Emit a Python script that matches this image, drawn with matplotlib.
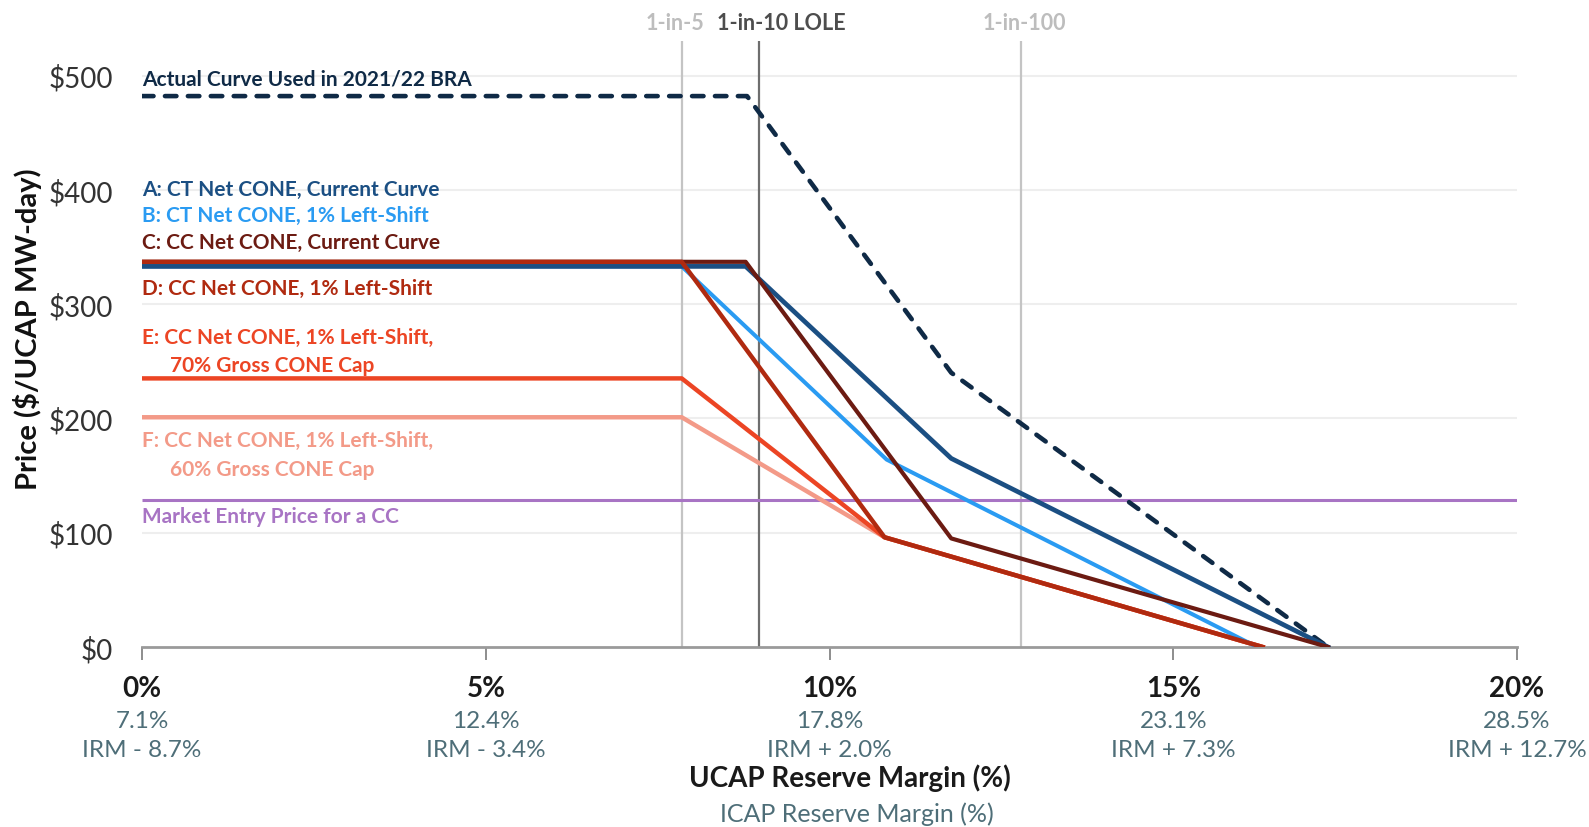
import matplotlib
matplotlib.use("Agg")
import matplotlib.pyplot as plt
import matplotlib.transforms as mtransforms

plt.rcParams['font.family'] = ['Lato', 'DejaVu Sans']

# ---- data ----
x_actual = [0, 8.8, 11.77, 17.25]
y_actual = [482, 482, 240, 0]
x_A = [0, 8.78, 11.77, 17.25]
y_A = [333, 333, 165, 0]
x_B = [0, 7.85, 10.83, 16.22]
y_B = [333, 333, 164, 0]
x_C = [0, 8.78, 11.77, 17.25]
y_C = [337, 337, 95, 0]
x_D = [0, 7.85, 10.8, 16.3]
y_D = [337, 337, 96, 0]
x_E = [0, 7.85, 10.8, 16.3]
y_E = [235, 235, 96, 0]
x_F = [0, 7.85, 10.8, 16.3]
y_F = [201, 201, 96, 0]
entry_price = 129

lole_x = [7.85, 8.97, 12.78]
lole_labels = ["1-in-5", "1-in-10 LOLE", "1-in-100"]

xticks = [0, 5, 10, 15, 20]
xtick_labels = ["0%", "5%", "10%", "15%", "20%"]
icap_labels = ["7.1%", "12.4%", "17.8%", "23.1%", "28.5%"]
irm_labels = ["IRM - 8.7%", "IRM - 3.4%", "IRM + 2.0%", "IRM + 7.3%", "IRM + 12.7%"]
yticks = [0, 100, 200, 300, 400, 500]
ytick_labels = ["$0", "$100", "$200", "$300", "$400", "$500"]

# ---- colours ----
c_actual = "#0f2a46"
c_A = "#1b4f83"
c_B = "#2a9bf2"
c_C = "#6c1b12"
c_D = "#b02a10"
c_E = "#ec4524"
c_F = "#f39a88"
c_entry = "#a874c4"

fig = plt.figure(figsize=(15.89, 8.28), dpi=100)
ax = fig.add_axes([0.0894, 0.2174, 0.8653, 0.7316])
ax.set_xlim(0, 20)
ax.set_ylim(0, 530)

for y in [100, 200, 300, 400, 500]:
    ax.axhline(y, color="#eeeeee", lw=1.5, zorder=0)

ax.axvline(lole_x[0], color="#c4c4c4", lw=1.6, zorder=1)
ax.axvline(lole_x[1], color="#6e6e6e", lw=1.6, zorder=1)
ax.axvline(lole_x[2], color="#c4c4c4", lw=1.6, zorder=1)

ax.plot([0, 20], [entry_price, entry_price], color=c_entry, lw=2.2, zorder=2, solid_capstyle='butt')
ax.plot(x_F, y_F, color=c_F, lw=3.2, zorder=3)
ax.plot(x_E, y_E, color=c_E, lw=3.2, zorder=4)
ax.plot(x_actual, y_actual, color=c_actual, lw=3.3, ls=(0, (2.5, 2.5)),
        dash_capstyle='round', zorder=5)
ax.plot(x_B, y_B, color=c_B, lw=2.9, zorder=6)
ax.plot(x_A, y_A, color=c_A, lw=3.4, zorder=7)
ax.plot(x_C, y_C, color=c_C, lw=3.0, zorder=8)
ax.plot(x_D, y_D, color=c_D, lw=3.2, zorder=9)

# labels for series
fs = 15
ax.text(0, 497, "Actual Curve Used in 2021/22 BRA", color=c_actual, fontsize=fs, fontweight='bold', va='center', ha='left')
ax.text(0, 401, "A: CT Net CONE, Current Curve", color=c_A, fontsize=fs, fontweight='bold', va='center', ha='left')
ax.text(0, 378, "B: CT Net CONE, 1% Left-Shift", color=c_B, fontsize=fs, fontweight='bold', va='center', ha='left')
ax.text(0, 354, "C: CC Net CONE, Current Curve", color=c_C, fontsize=fs, fontweight='bold', va='center', ha='left')
ax.text(0, 314, "D: CC Net CONE, 1% Left-Shift", color=c_D, fontsize=fs, fontweight='bold', va='center', ha='left')
ax.text(0, 271, "E: CC Net CONE, 1% Left-Shift,", color=c_E, fontsize=fs, fontweight='bold', va='center', ha='left')
ax.text(0.4, 247, "70% Gross CONE Cap", color=c_E, fontsize=fs, fontweight='bold', va='center', ha='left')
ax.text(0, 181, "F: CC Net CONE, 1% Left-Shift,", color=c_F, fontsize=fs, fontweight='bold', va='center', ha='left')
ax.text(0.4, 156, "60% Gross CONE Cap", color=c_F, fontsize=fs, fontweight='bold', va='center', ha='left')
ax.text(0, 115, "Market Entry Price for a CC", color=c_entry, fontsize=fs, fontweight='bold', va='center', ha='left')

# LOLE labels on top
trans_top = mtransforms.blended_transform_factory(ax.transData, fig.transFigure)
ax.text(7.75, 1 - 23 / 828, lole_labels[0], transform=trans_top, color="#bdbdbd", fontsize=15.5, fontweight='bold', ha='center', va='center')
ax.text(8.36, 1 - 23 / 828, lole_labels[1], transform=trans_top, color="#4d4d4d", fontsize=15.5, fontweight='bold', ha='left', va='center')
ax.text(12.83, 1 - 23 / 828, lole_labels[2], transform=trans_top, color="#bdbdbd", fontsize=15.5, fontweight='bold', ha='center', va='center')

# axes styling
for s in ['top', 'right', 'left']:
    ax.spines[s].set_visible(False)
ax.spines['bottom'].set_color("#9a9a9a")
ax.spines['bottom'].set_linewidth(2.0)
ax.set_yticks(yticks)
ax.set_yticklabels(ytick_labels, fontsize=20, color="#333333")
ax.tick_params(axis='y', length=0, pad=21)
ax.set_xticks(xticks)
ax.set_xticklabels([])
ax.tick_params(axis='x', length=9, width=1.2, color="#7a7a7a", direction='out')

for xv, l1, l2, l3 in zip(xticks, xtick_labels, icap_labels, irm_labels):
    ax.text(xv, 0.168, l1, transform=trans_top, fontsize=20, fontweight='bold', color="#1a1a1a", ha='center', va='center')
    ax.text(xv, 0.129, l2, transform=trans_top, fontsize=17.5, color="#4e6e78", ha='center', va='center')
    ax.text(xv, 0.093, l3, transform=trans_top, fontsize=17.5, color="#4e6e78", ha='center', va='center')

ax.text(10.3, 0.060, "UCAP Reserve Margin (%)", transform=trans_top, fontsize=20, fontweight='bold', color="#1a1a1a", ha='center', va='center')
ax.text(10.4, 0.017, "ICAP Reserve Margin (%)", transform=trans_top, fontsize=18, color="#4e6e78", ha='center', va='center')

fig.text(28 / 1589, 0.603, "Price ($/UCAP MW-day)", rotation=90, fontsize=21, fontweight='bold', color="#111111", ha='center', va='center')

fig.savefig("out.png", dpi=100)
